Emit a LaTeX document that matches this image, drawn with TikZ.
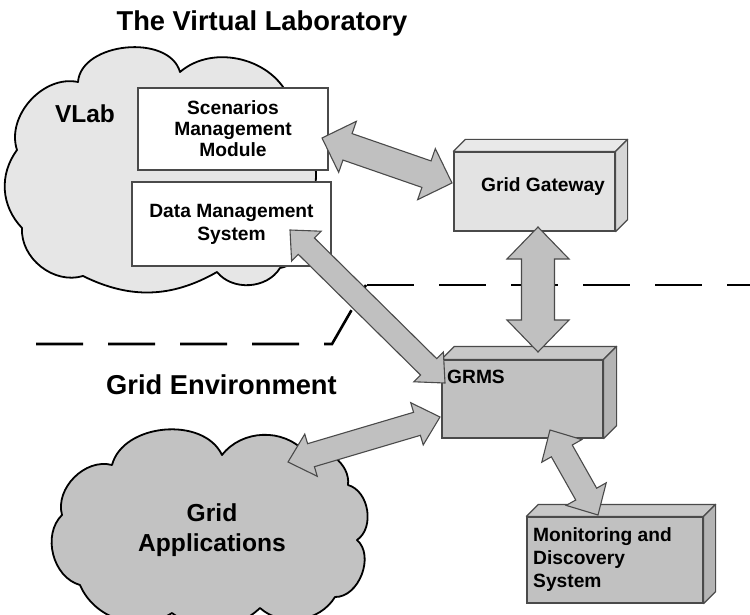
\documentclass[tikz,border=0pt]{standalone}
\usepackage{fontspec}
\setmainfont{Liberation Sans}
\usetikzlibrary{calc}

\definecolor{vlabfill}{HTML}{E6E6E6}
\definecolor{gwfront}{HTML}{E3E3E3}
\definecolor{gwtop}{HTML}{E9E9E9}
\definecolor{gwside}{HTML}{D6D6D6}
\definecolor{darkbox}{HTML}{C1C1C1}
\definecolor{darktop}{HTML}{C8C8C8}
\definecolor{darkside}{HTML}{B4B4B4}
\definecolor{edgegray}{HTML}{4A4A4A}
\definecolor{arrowfill}{HTML}{C0C0C0}
\definecolor{appsfill}{HTML}{C2C2C2}

% double-headed block arrow: start, end, shaft half width, head half width, head length
\newcommand\blockarrow[5]{%
  \filldraw[blockarrow] (#1)
    -- ($(#1)!#5pt!(#2)!#4pt!90:(#2)$)
    -- ($(#1)!#5pt!(#2)!#3pt!90:(#2)$)
    -- ($(#2)!#5pt!(#1)!#3pt!-90:(#1)$)
    -- ($(#2)!#5pt!(#1)!#4pt!-90:(#1)$)
    -- (#2)
    -- ($(#2)!#5pt!(#1)!#4pt!90:(#1)$)
    -- ($(#2)!#5pt!(#1)!#3pt!90:(#1)$)
    -- ($(#1)!#5pt!(#2)!#3pt!-90:(#2)$)
    -- ($(#1)!#5pt!(#2)!#4pt!-90:(#2)$)
    -- cycle;}

\begin{document}
\begin{tikzpicture}[x=1pt,y=-1pt,
  cloudline/.style={draw=black, line width=1.8pt, line join=round},
  flatbox/.style={draw=edgegray, line width=1.2pt, fill=white, inner sep=0pt,
    align=center, font=\bfseries\fontsize{19.2}{21}\selectfont},
  solidbox/.style={draw=edgegray, line width=1.2pt, inner sep=0pt},
  faceline/.style={draw=edgegray, line width=1.2pt, line join=round},
  blockarrow/.style={draw=edgegray, fill=arrowfill, line width=1.1pt, line join=miter},
  divider/.style={line width=2.6pt, dash pattern=on 47pt off 25pt},
  boxtext/.style={inner sep=0pt, font=\bfseries\fontsize{19.2}{23}\selectfont},
  bigtext/.style={inner sep=0pt, font=\bfseries\fontsize{27.3}{32}\selectfont},
  cloudtext/.style={inner sep=0pt, align=center, font=\bfseries\fontsize{24.6}{30}\selectfont}]

\useasboundingbox (0,0) rectangle (750,615);

% ---- Virtual laboratory cloud ----
\draw[cloudline, fill=vlabfill] (78,82) to[bend left=80] (180,72) to[bend left=55] (290,100)
  to[bend left=40] (305,125) to[bend left=22] (305,225) to[bend left=50] (280,268)
  to[bend left=55] (217,272) to[bend left=28] (83,276) to[bend left=55] (22,228)
  to[bend left=40] (17,150) to[bend left=60] (78,82) -- cycle;

\node[flatbox, minimum width=190pt, minimum height=82pt] (smm) at (233,129)
  {Scenarios\\Management\\Module};
\node[flatbox, minimum width=199pt, minimum height=84pt,
  font=\bfseries\fontsize{19.2}{23}\selectfont] (dms) at (231.5,224)
  {Data Management\\System};

% ---- boundary between the laboratory and the grid ----
\draw[divider] (36,344) -- (332,344) -- (366,285);
\draw[divider] (367,285) -- (752,285);

% ---- Grid Gateway ----
\node[solidbox, fill=gwfront, minimum width=161pt, minimum height=79pt] (gw) at (534.5,191.5) {};
\filldraw[faceline, fill=gwtop] (gw.north west) -- ++(12,-12) -- ($(gw.north east)+(12,-12)$) -- (gw.north east) -- cycle;
\filldraw[faceline, fill=gwside] (gw.north east) -- ++(12,-12) -- ($(gw.south east)+(12,-12)$) -- (gw.south east) -- cycle;
\node[boxtext] (gwlabel) at (543,187) {Grid Gateway};

% ---- GRMS ----
\node[solidbox, fill=darkbox, minimum width=161pt, minimum height=78pt] (grms) at (522.5,399) {};
\filldraw[faceline, fill=darktop] (grms.north west) -- ++(13,-13) -- ($(grms.north east)+(13,-13)$) -- (grms.north east) -- cycle;
\filldraw[faceline, fill=darkside] (grms.north east) -- ++(13,-13) -- ($(grms.south east)+(13,-13)$) -- (grms.south east) -- cycle;
\node[boxtext, anchor=base west] (grmslabel) at (447,383) {GRMS};

% ---- Monitoring and Discovery System ----
\node[solidbox, fill=darkbox, minimum width=176pt, minimum height=86pt] (mds) at (615,560) {};
\filldraw[faceline, fill=darktop] (mds.north west) -- ++(12,-12) -- ($(mds.north east)+(12,-12)$) -- (mds.north east) -- cycle;
\filldraw[faceline, fill=darkside] (mds.north east) -- ++(12,-12) -- ($(mds.south east)+(12,-12)$) -- (mds.south east) -- cycle;
\node[boxtext, align=left, anchor=north west] (mdslabel) at (533,527) {Monitoring and\\Discovery\\System};

% ---- Grid applications cloud ----
\draw[cloudline, fill=appsfill] (112,465) to[bend left=70] (222,455) to[bend left=50] (305,452)
  to[bend left=60] (348,485) to[bend left=65] (357,540) to[bend left=70] (335,597)
  to[bend left=50] (260,608) to[bend left=40] (172,613) to[bend left=50] (80,585)
  to[bend left=60] (62,515) to[bend left=60] (112,465) -- cycle;
\node[cloudtext] (apps) at (212,530.5) {Grid\\Applications};

% ---- connections ----
\coordinate (smm-end) at (322,138);
\coordinate (gw-end-a) at (452,183);
\coordinate (dms-end) at (290,230);
\coordinate (grms-end-a) at (445,383);
\coordinate (gw-end-b) at (538,227);
\coordinate (grms-end-b) at (538,352);
\coordinate (apps-end) at (288,462);
\coordinate (grms-end-c) at (440,417);
\coordinate (grms-end-d) at (550,430);
\coordinate (mds-end) at (598,515);

\blockarrow{smm-end}{gw-end-a}{14}{27}{27}
\blockarrow{dms-end}{grms-end-a}{11.5}{21}{23}
\blockarrow{gw-end-b}{grms-end-b}{16.5}{31}{32}
\blockarrow{apps-end}{grms-end-c}{12}{22}{24}
\blockarrow{grms-end-d}{mds-end}{12}{23}{24}

% ---- headings ----
\node[bigtext, anchor=base] (title) at (262,31) {The Virtual Laboratory};
\node[inner sep=0pt, anchor=base, font=\bfseries\fontsize{24.5}{29}\selectfont] (vlab) at (85,123) {VLab};
\node[bigtext, anchor=base] (gridenv) at (221.5,394) {Grid Environment};
\end{tikzpicture}
\end{document}
